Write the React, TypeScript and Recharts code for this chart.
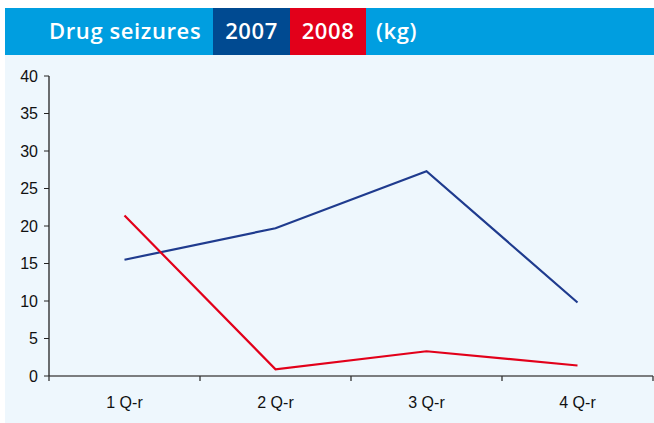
import { LineChart, Line, XAxis, YAxis } from "recharts";

const quarters = ["1 Q-r", "2 Q-r", "3 Q-r", "4 Q-r"];
const seizures2007 = [15.5, 19.7, 27.3, 9.8];
const seizures2008 = [21.4, 0.9, 3.3, 1.4];
const yTicks = [0, 5, 10, 15, 20, 25, 30, 35, 40];

const data = quarters.map((q, i) => ({ q, y2007: seizures2007[i], y2008: seizures2008[i] }));

const BAND = 151;
const FONT = "'Liberation Sans', Arial, sans-serif";

function QuarterTick(props: any) {
  const { x, y, payload, index } = props;
  return (
    <g>
      <line x1={x + BAND / 2} x2={x + BAND / 2} y1={y - 21} y2={y - 16} stroke="#333" strokeWidth={1.3} />
      {index === 0 && (
        <line x1={x - BAND / 2} x2={x - BAND / 2} y1={y - 21} y2={y - 16} stroke="#333" strokeWidth={1.3} />
      )}
      <text x={x} y={y} dy="0.71em" textAnchor="middle" fill="#111" fontSize={16} fontFamily={FONT}>
        {payload.value}
      </text>
    </g>
  );
}

const headerText = {
  position: "absolute" as const,
  top: 0,
  height: 47,
  lineHeight: "45px",
  color: "#fff",
  fontFamily: "'Open Sans', sans-serif",
  fontWeight: 600,
  fontSize: 22,
  letterSpacing: 0.6,
};

export default function App() {
  return (
    <div style={{ position: "absolute", left: 0, top: 0, width: 654, height: 423, background: "#fff" }}>
      <div style={{ position: "absolute", left: 5, top: 55, width: 649, height: 368, background: "#EEF7FD" }} />
      <div style={{ position: "absolute", left: 5, top: 8, width: 649, height: 47, background: "#009EE0" }}>
        <div style={{ ...headerText, left: 44 }}>Drug seizures</div>
        <div style={{ ...headerText, left: 208, width: 77, background: "#004A91", textAlign: "center" }}>2007</div>
        <div style={{ ...headerText, left: 285, width: 76, background: "#E2001A", textAlign: "center" }}>2008</div>
        <div style={{ ...headerText, left: 371 }}>(kg)</div>
      </div>
      <div style={{ position: "absolute", left: 0, top: 0 }}>
        <LineChart width={654} height={423} data={data} margin={{ top: 76, right: 1, bottom: 17, left: 0 }}>
          <XAxis
            dataKey="q"
            height={30}
            padding={{ left: BAND / 2, right: BAND / 2 }}
            tickSize={0}
            tickMargin={21}
            tick={<QuarterTick />}
            axisLine={{ stroke: "#555", strokeWidth: 1.5 }}
            interval={0}
          />
          <YAxis
            width={49}
            domain={[0, 40]}
            ticks={yTicks}
            interval={0}
            tickSize={5}
            tickMargin={6}
            tick={{ fill: "#111", fontSize: 16, fontFamily: FONT }}
            tickLine={{ stroke: "#222" }}
            axisLine={{ stroke: "#222", strokeWidth: 1.3 }}
          />
          <Line
            dataKey="y2007"
            stroke="#1F3B8E"
            strokeWidth={2.2}
            dot={false}
            isAnimationActive={false}
          />
          <Line
            dataKey="y2008"
            stroke="#E2001A"
            strokeWidth={2.2}
            dot={false}
            isAnimationActive={false}
          />
        </LineChart>
      </div>
    </div>
  );
}
